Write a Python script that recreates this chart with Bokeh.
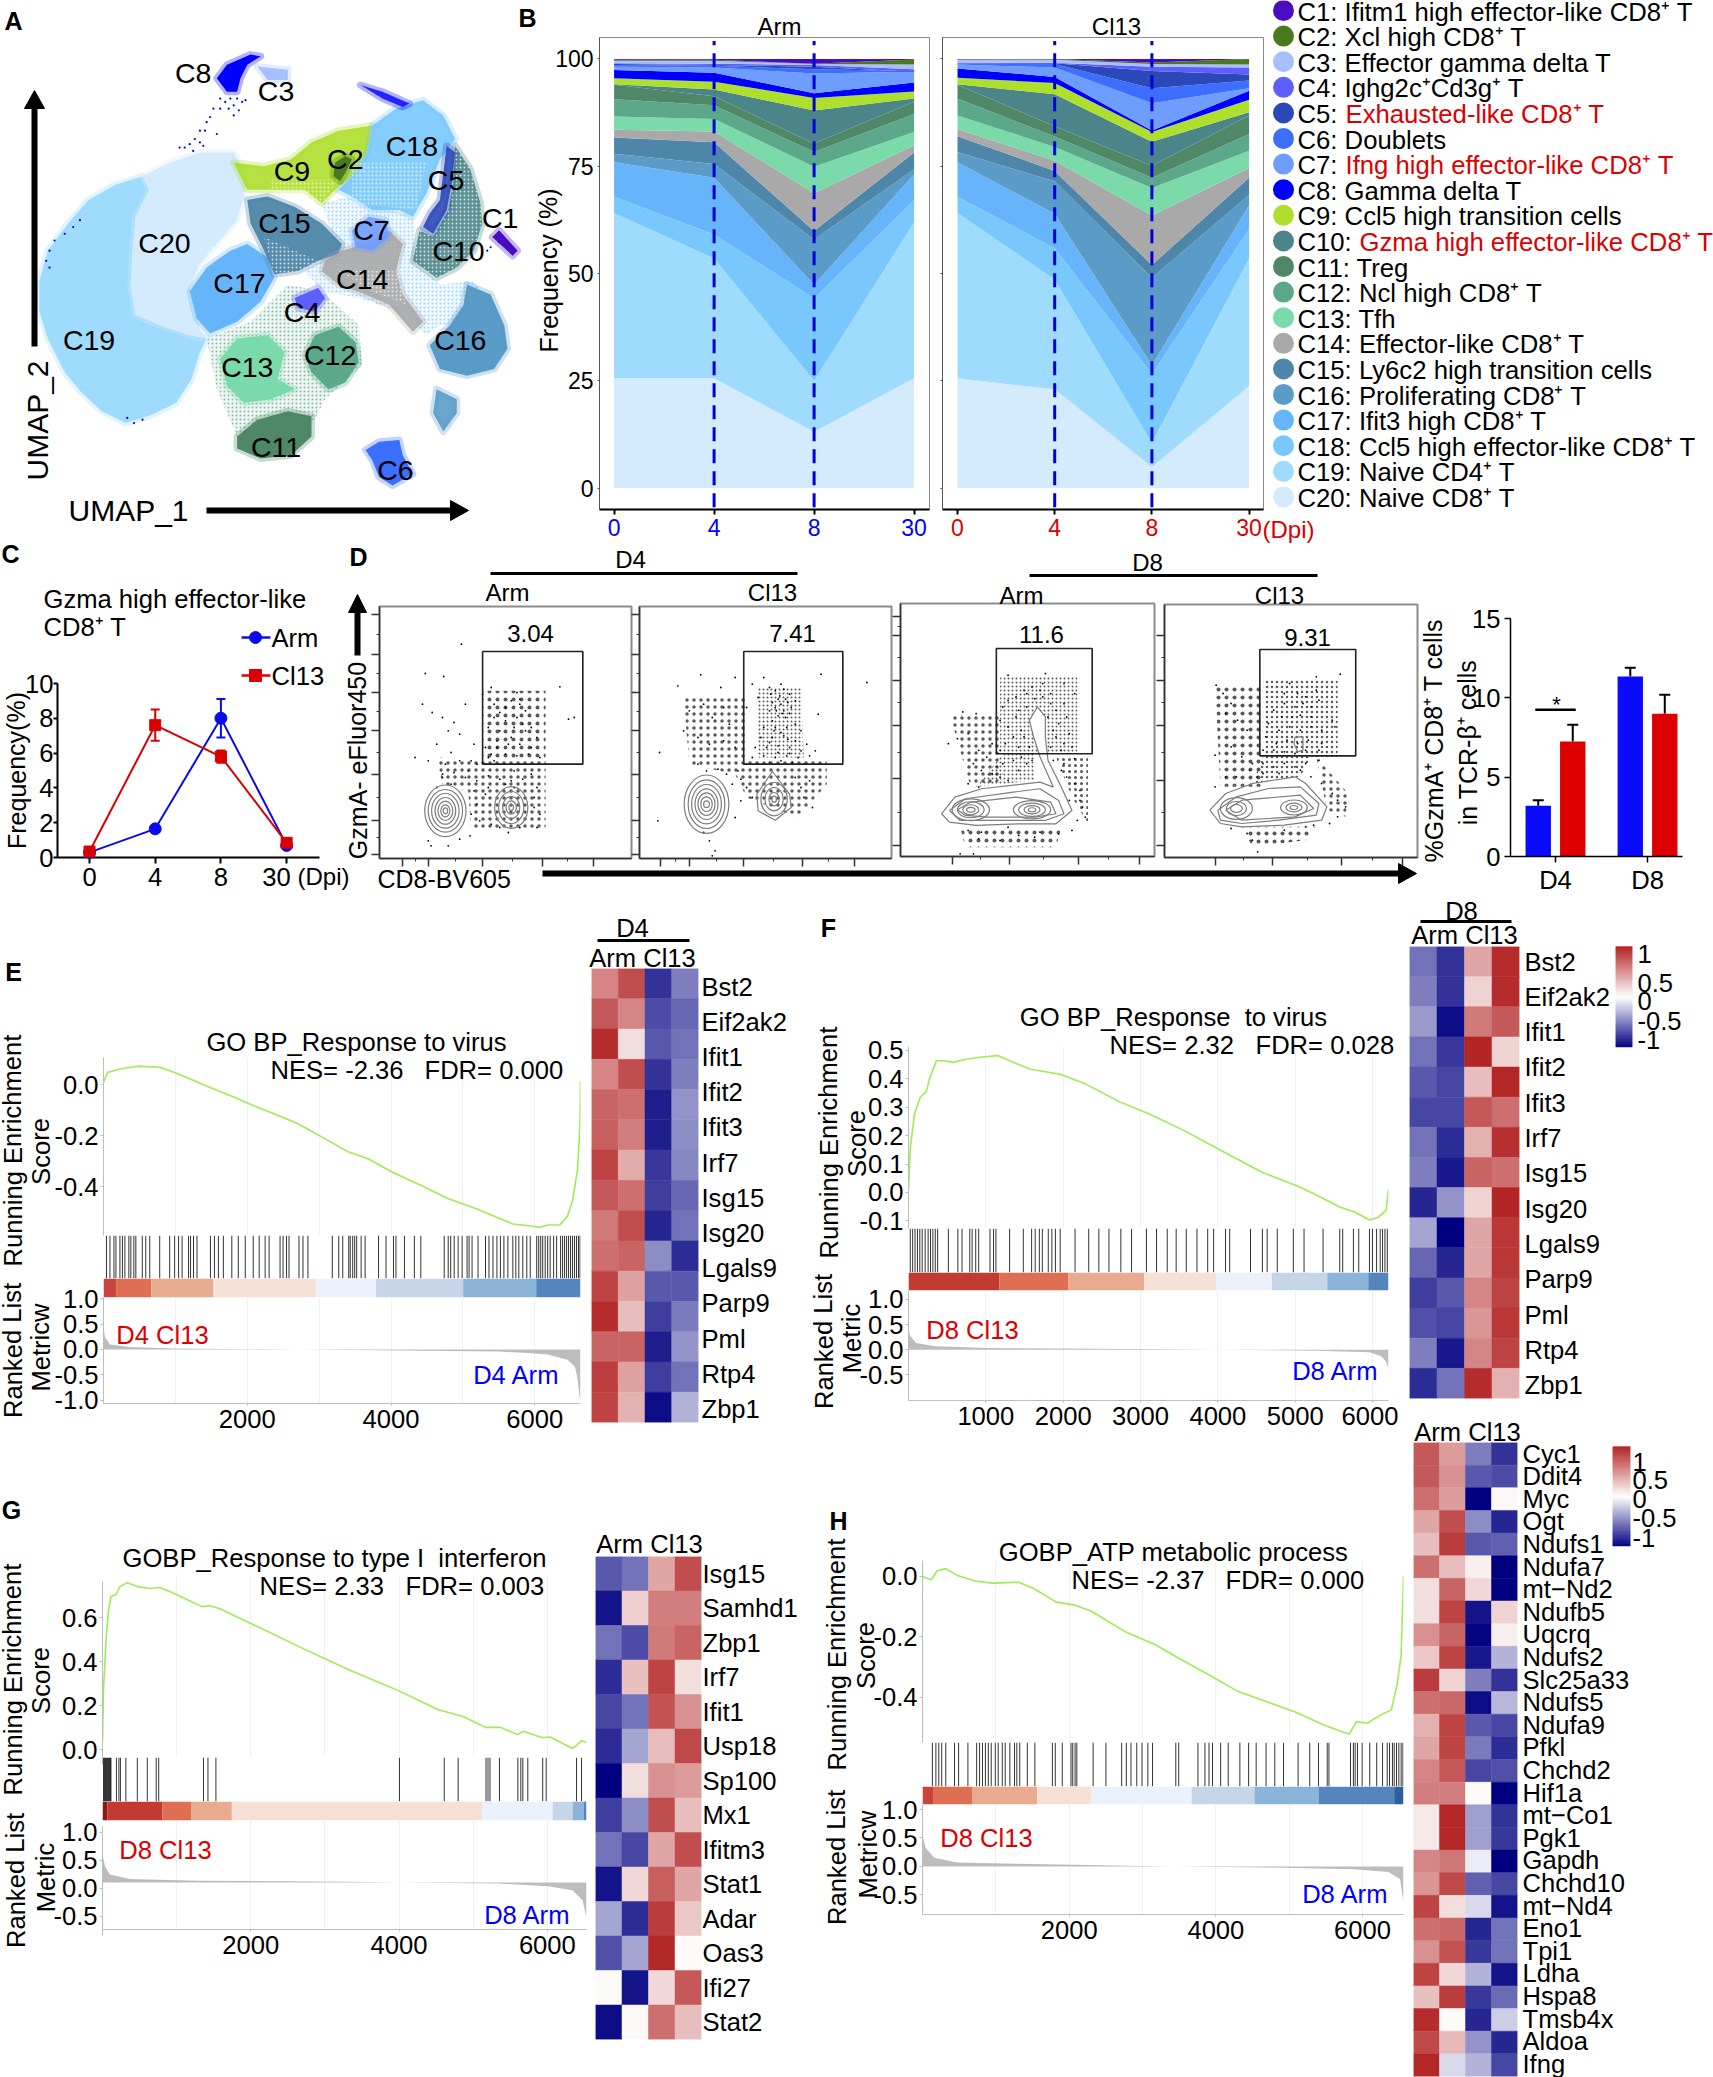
from bokeh.plotting import figure
from bokeh.models import Range1d, LinearAxis, FixedTicker, ColumnDataSource, LinearColorMapper, Column, Grid, NumeralTickFormatter
from bokeh.core.properties import value
from bokeh.transform import transform
from bokeh.embed import file_html
from bokeh.resources import INLINE

FONT = "Liberation Sans"
BLUE = "#0000ff"
RED = "#dc0000"
NB = "\u00a0"

# ---------- cluster names / colours
cluster_ids = ["C%d" % i for i in range(1, 21)]
cluster_colors = ["#4a0ec0", "#4a7a1e", "#a8bfff", "#5f5fff", "#2a48b8", "#3c6eff", "#6f9cff", "#0000ff", "#addf2c", "#4b8589",
                  "#4e8866", "#5ca88a", "#7bdaa9", "#a9a9a9", "#4d86a8", "#5a9bc8", "#66b5fb", "#78c8fd", "#9edbfd", "#d3ebfc"]
legend_black = ["C1: Ifitm1 high effector-like CD8⁺ T", "C2: Xcl high CD8⁺ T", "C3: Effector gamma delta T", "C4: Ighg2c⁺Cd3g⁺ T",
                "C5:", "C6: Doublets", "C7:", "C8: Gamma delta T", "C9: Ccl5 high transition cells", "C10:", "C11: Treg",
                "C12: Ncl high CD8⁺ T", "C13: Tfh", "C14: Effector-like CD8⁺ T", "C15: Ly6c2 high transition cells",
                "C16: Proliferating CD8⁺ T", "C17: Ifit3 high CD8⁺ T", "C18: Ccl5 high effector-like CD8⁺ T", "C19: Naive CD4⁺ T", "C20: Naive CD8⁺ T"]
legend_red = {4: "Exhausted-like CD8⁺ T", 6: "Ifng high effector-like CD8⁺ T", 9: "Gzma high effector-like CD8⁺ T"}

# ---------- panel B: cumulative tops, C20 (bottom) to C1 (top)
arm_d0 = [25.6, 64.1, 67.9, 75.9, 77.9, 81.7, 83.5, 86.6, 90.6, 94.0, 94.1, 95.5, 97.4, 98.2, 98.6, 98.8, 99.0, 99.6, 99.8, 100]
arm_d4 = [25.6, 53.5, 59.1, 72.3, 75.5, 80.6, 83.1, 86.0, 89.2, 91.3, 92.9, 94.7, 96.8, 98.0, 98.4, 98.6, 98.9, 99.6, 99.8, 100]
arm_d8 = [13.1, 25.0, 44.2, 47.4, 57.9, 59.9, 68.7, 74.9, 78.3, 80.3, 88.0, 90.9, 92.0, 96.6, 97.6, 98.2, 98.6, 98.8, 98.9, 100]
arm_d30 = [25.6, 61.9, 67.1, 73.1, 74.3, 78.2, 79.9, 83.0, 87.2, 90.0, 90.8, 92.4, 94.5, 97.0, 97.2, 97.0, 97.6, 98.7, 99.9, 100]
cl13_d0 = [25.6, 64.1, 67.9, 75.9, 78.3, 82.0, 83.7, 86.8, 90.8, 94.0, 94.1, 95.6, 97.8, 98.7, 98.9, 99.0, 99.2, 99.8, 99.9, 100]
cl13_d4 = [23.0, 48.6, 55.9, 63.9, 71.5, 73.9, 76.3, 79.5, 81.9, 84.3, 91.8, 94.4, 95.8, 98.0, 98.8, 99.0, 99.1, 99.8, 100, 100]
cl13_d8 = [4.9, 10.5, 26.6, 28.6, 49.0, 52.0, 63.5, 69.9, 72.3, 75.1, 80.7, 83.0, 83.3, 89.7, 93.2, 97.2, 98.2, 98.8, 99.2, 100]
cl13_d30 = [23.8, 53.5, 60.3, 65.9, 68.3, 72.3, 74.6, 78.6, 82.5, 86.8, 87.6, 90.5, 92.6, 93.2, 95.0, 96.4, 98.0, 98.7, 100, 100]
dpi_labels = ["0", "4", "8", "30"]

# ---------- panel C
c_arm = [0.3, 1.65, 8.0, 0.7]
c_arm_err = [0.1, 0.15, 1.1, 0.15]
c_cl13 = [0.35, 7.6, 5.8, 0.85]
c_cl13_err = [0.1, 0.9, 0.35, 0.1]

# ---------- panel D bars
bar_arm = [3.2, 11.35]
bar_arm_top = [3.55, 11.9]
bar_cl13 = [7.25, 9.0]
bar_cl13_top = [8.3, 10.2]

# ---------- panel D flow dots (read in reading units of each plot)
d1_dots = [740,428,772,437,803,340,722,680,745,690,735,520,752,545,770,560,790,575,810,520,780,600,800,610,825,640,760,640,785,665,775,700,800,690,820,690,815,720,830,700,845,700,860,690,878,700,895,720,905,700,925,730,935,770,930,800,940,850,935,890,
           855,470,840,490,900,485,975,468,1000,560,990,565,860,520,880,530,890,510,905,520,915,540,900,560,880,570,860,560,850,590,870,600,895,590,915,600,935,620,925,650,905,640,885,640,865,650,845,650,855,670,880,670,900,675,920,670,940,680,850,680,865,630,890,620,910,580,925,590,870,545,905,505,
           770,740,785,760,760,770,790,725,810,740,830,750,850,735,870,745,890,750,910,745,825,780,845,790,830,820,820,850,850,770,835,870,818,915,780,945,750,945,745,930,800,925,855,880,870,890,930,830,885,905,905,890,880,760,895,770,770,730]
d2_dots = [1220,432,1280,440,1255,470,1180,465,1148,665,1190,600,1200,540,1225,520,1240,560,1260,530,1270,580,1215,620,1235,640,1260,630,1280,650,1215,700,1230,720,1250,715,1265,730,1285,720,1300,700,1320,700,1340,695,1360,690,1380,695,1400,700,1290,745,1275,760,1300,770,1310,800,1290,810,1385,740,1395,770,1400,800,1410,750,1415,830,1145,870,1240,975,1245,960,1235,930,1225,905,1280,860,
           1320,500,1340,470,1350,480,1365,475,1375,490,1355,505,1345,515,1360,520,1372,515,1385,510,1350,530,1365,540,1378,530,1340,540,1355,555,1368,560,1345,570,1330,590,1350,590,1370,590,1385,580,1395,600,1325,620,1345,620,1365,615,1385,630,1405,640,1315,650,1335,650,1355,645,1375,650,1395,660,1420,660,1310,680,1330,675,1350,680,1370,675,1390,680,1410,675,1430,430,1510,455,1425,550,1300,530,1310,460,1330,440,1360,460,1342,490,1358,495,1368,505,1352,540,1362,548,1375,548,1348,600,1360,605,1372,625,1340,635,1355,665,1375,668]
d3_dots = [240,435,310,430,305,460,285,470,300,480,320,490,345,460,270,480,255,500,240,510,230,530,225,570,240,590,255,560,265,600,275,530,260,540,250,620,235,640,225,660,260,650,270,620,280,650,320,520,330,540,345,520,350,560,335,580,330,620,345,640,360,650,340,660,320,650,325,600,315,560,275,490,290,505,305,500,365,490,355,610,
           155,545,180,550,128,640,145,625,165,610,185,660,200,680,210,640,175,700,190,720,210,730,165,760,185,770,230,700,250,690,265,680,240,750,225,740,260,720,275,700,285,690,325,690,340,720,350,740,365,760,345,700,375,780,380,830,385,860,370,870,360,900,165,900,190,905,225,930,260,915,290,920,335,910,300,905,240,890,150,970,175,970,185,925,365,685,355,810,375,810]
d4_dots = [770,460,820,440,865,432,760,490,785,490,800,500,820,480,760,520,780,530,795,520,810,530,825,510,740,540,755,560,775,560,790,555,810,560,730,580,750,600,770,590,790,600,810,590,830,600,850,570,855,590,725,620,745,640,765,630,785,640,805,630,830,640,720,660,740,660,760,665,780,670,800,660,825,660,
           632,465,645,490,660,520,650,550,672,570,690,600,630,675,660,650,680,680,700,700,720,700,740,710,760,700,780,710,800,700,825,690,650,740,630,770,670,740,695,720,720,730,750,730,790,720,810,740,830,760,850,790,860,810,875,830,860,860,845,880,690,910,700,930,710,965,660,895,760,900,800,890,815,885]
# density zones of the dot clouds: outline, tile scale
d1_zones = [([840,480,950,480,950,690,840,690], 8), ([760,680,950,690,950,900,820,900,815,780,770,760], 7)]
d2_zones = [([1320,470,1395,470,1400,680,1320,680], 4), ([1190,500,1300,500,1300,690,1440,690,1440,760,1390,860,1300,800,1280,730,1200,700], 7)]
d3_zones = [([225,440,370,440,370,670,225,670], 4), ([130,550,225,550,230,750,170,770], 7), ([330,680,390,680,390,880,360,800], 6), ([230,670,290,670,290,750,180,770], 4), ([150,890,340,890,330,950,160,950], 8)]
d4_zones = [([720,450,860,450,860,680,720,680], 5), ([630,470,720,470,720,770,640,770], 8), ([720,680,810,680,790,740,700,760], 5), ([820,680,880,790,875,860,840,840], 7), ([680,890,820,890,800,930,700,950], 8)]
d3_neck = [280,570,295,530,310,560,310,620,315,690,325,750,300,750,300,680,288,620]

# ---------- GSEA panels: running score curves
e_rank = [0,55,228,470,782,990,1197,1474,1820,2097,2443,2720,3066,3412,3688,4034,4450,4796,5142,5488,5695,5972,6076,6180,6352,6456,6526,6595,6629,6636]
e_es = [.007,.047,.061,.072,.068,.047,.023,-.011,-.05,-.084,-.122,-.156,-.21,-.265,-.292,-.346,-.40,-.448,-.482,-.522,-.547,-.556,-.56,-.551,-.55,-.516,-.455,-.332,-.156,.014]
f_rank = [0,23,77,154,231,269,361,461,577,731,923,1153,1307,1576,1961,2269,2730,3114,3576,4114,4576,5037,5268,5575,5768,5960,6075,6175,6206]
f_es = [.01,.155,.276,.337,.355,.398,.464,.464,.458,.468,.476,.482,.464,.434,.416,.385,.319,.276,.216,.137,.07,.022,-.008,-.051,-.069,-.097,-.087,-.063,.01]
g_rank = [0,13,47,81,114,181,235,335,470,638,772,940,1174,1342,1443,1577,1980,2650,3321,3992,4529,4864,5166,5367,5602,5669,5937,6038,6340,6407,6461,6528]
g_es = [.009,.236,.464,.6,.664,.673,.709,.727,.709,.7,.705,.682,.645,.618,.622,.609,.545,.436,.331,.236,.149,.118,.069,.069,.036,.051,.022,.025,-.027,-.009,.009,0]
h_rank = [0,119,199,318,477,715,953,1310,1509,1826,2064,2303,2779,3176,3494,3891,4288,4685,5082,5479,5757,5820,5915,6074,6153,6272,6392,6471,6526,6558]
h_es = [0,-.011,.019,.026,.003,-.015,-.022,-.019,-.039,-.085,-.094,-.115,-.185,-.226,-.271,-.324,-.379,-.414,-.449,-.493,-.518,-.522,-.481,-.486,-.472,-.456,-.442,-.358,-.261,.003]

# ranked metric
e_m_rank = [0,21,90,367,990,2720,3412,4796,5488,5903,6180,6456,6560,6595,6622,6636]
e_m = [.44,.24,.10,.05,.02,0,-.01,-.03,-.04,-.07,-.10,-.2,-.34,-.58,-.92,-1.05]
f_m_rank = [0,23,100,346,1038,2961,4000,5268,5960,6114,6175,6206]
f_m = [.41,.27,.136,.07,.034,.014,0,-.02,-.05,-.13,-.24,-.37]
g_m_rank = [0,34,101,369,1308,3321,3992,5335,6005,6340,6475,6528]
g_m = [.5,.29,.14,.06,.03,.01,0,-.02,-.07,-.14,-.32,-.64]
h_m_rank = [0,40,159,476,1509,3414,4685,5876,6352,6511,6558]
h_m = [.55,.33,.15,.07,.04,0,-.02,-.05,-.1,-.22,-.63]

# gene-set hits (reading units along each rug)
e_hits = [213,220,228,232,240,245,250,258,262,268,272,285,292,300,320,340,350,358,365,378,382,388,395,422,430,438,448,465,478,492,508,520,532,540,562,568,575,580,600,608,618,667,680,688,700,703,708,712,716,725,733,760,775,790,795,812,832,845,892,900,905,912,920,928,938,942,948,960,975,982,990,998,1005,1012,1020,1030,1036,1042,1050,1058,1065,1078,1082,1086,1090,1095,1100,1105,1112,1118,1126,1130,1134,1138,1142,1146,1150,1154,1158,1162,1165]
f_hits = [218,222,226,230,234,238,243,248,252,256,260,264,282,298,305,318,322,328,333,352,358,362,385,408,422,428,435,440,450,456,462,470,495,518,535,552,572,590,615,632,650,665,682,700,718,728,748,755,790,810,818,835,862,880,912,940,945,963,972,990,995,1002,1008,1012,1016,1020]
g_hits = [207,209,211,213,215,217,219,221,222,233,238,241,252,275,295,313,318,408,417,433,802,892,920,976,980,984,1003,1040,1046,1050,1060,1090,1097,1158,1168]
h_hits = [227,233,238,243,250,265,272,288,303,308,313,318,323,328,335,340,347,352,360,368,372,377,390,403,433,438,450,465,468,472,475,503,525,552,560,568,578,587,597,605,645,650,683,695,702,708,722,735,755,770,783,800,815,830,855,875,890,905,908,945,950,953,957,965,978,990,1000,1008,1012,1017,1020,1024,1028,1032,1035]
# rank colour strip
e_edges = [207,232,303,428,634,755,930,1077,1166]
e_strip = ["#c9443c","#df6f53","#e8ab8f","#f7e0d5","#eaf1fb","#c4d6e8","#8cb3d8","#5486bd"]
f_edges = [215,368,484,611,733,826,919,988,1022]
f_strip = ["#c23b32","#df6f53","#e8ab8f","#f7e0d5","#eaf1fb","#c4d6e8","#8cb3d8","#5486bd"]
g_edges = [205,215,325,383,465,968,1110,1150,1172,1178]
g_strip = ["#8b1a1a","#c23b32","#df6f53","#e8ab8f","#f7e0d5","#eaf1fb","#c4d6e8","#8cb3d8","#5486bd"]
h_edges = [210,228,295,407,500,672,780,890,1020,1036]
h_strip = ["#c9443c","#df6f53","#e8ab8f","#f7e0d5","#eaf1fb","#c4d6e8","#8cb3d8","#5486bd","#2f5f9f"]

# ---------- heat maps
e_heat = [[.55,.8,-.8,-.5],[.75,.55,-.7,-.6],[.95,.15,-.65,-.55],[.55,.8,-.8,-.5],[.7,.65,-.88,-.42],[.72,.58,-.88,-.45],[.85,.38,-.78,-.47],[.75,.65,-.75,-.6],
          [.6,.8,-.85,-.55],[.65,.7,-.45,-.82],[.85,.42,-.65,-.65],[.95,.3,-.75,-.52],[.7,.7,-.88,-.42],[.87,.42,-.75,-.55],[.85,.35,-.95,-.3]]
ef_genes = ["Bst2","Eif2ak2","Ifit1","Ifit2","Ifit3","Irf7","Isg15","Isg20","Lgals9","Parp9","Pml","Rtp4","Zbp1"]
f_heat = [[-.55,-.8,.4,.95],[-.5,-.8,.2,.95],[-.4,-.95,.6,.75],[-.55,-.78,.98,.2],[-.65,-.72,.3,.97],[-.72,-.72,.75,.65],[-.55,-.82,.35,.93],[-.5,-.9,.7,.65],
          [-.85,-.42,.2,.98],[-.35,-1,.4,.9],[-.6,-.85,.4,.9],[-.75,-.65,.55,.85],[-.68,-.72,.48,.9],[-.5,-.9,.55,.85],[-.82,-.55,.95,.35]]
g_genes = ["Isg15","Samhd1","Zbp1","Irf7","Ifit1","Usp18","Sp100","Mx1","Ifitm3","Stat1","Adar","Oas3","Ifi27","Stat2"]
g_heat = [[-.65,-.55,.4,.8],[-.92,.22,.58,.58],[-.55,-.7,.6,.7],[-.82,.28,.85,.15],[-.72,-.55,.78,.5],[-.82,-.35,.3,.82],[-1,.15,.5,.45],[-.75,-.45,.8,.3],
          [-.55,-.72,.4,.8],[-.92,.18,.72,.4],[-.35,-.82,.88,.25],[-.68,-.35,.97,.02],[.02,-.92,.18,.75],[-.95,.03,.65,.3]]
h_genes = ["Cyc1","Ddit4","Myc","Ogt","Ndufs1","Ndufa7","mt−Nd2","Ndufb5","Uqcrq","Ndufs2","Slc25a33","Ndufs5","Ndufa9","Pfkl","Chchd2","Hif1a","mt−Co1","Pgk1","Gapdh","Chchd10","mt−Nd4","Eno1","Tpi1","Ldha","Hspa8","Tmsb4x","Aldoa","Ifng"]
h_heat = [[.75,.45,-.5,-.8],[.75,.5,-.65,-.7],[.65,.45,-1,.03],[.4,.8,-.45,-.85],[.3,.88,-.65,-.62],[.65,.3,.07,-1],[.15,.7,.18,-1],[.15,.85,-.92,.2],[.5,.7,-.98,.08],[.25,.85,-.9,-.3],
          [.88,.2,-.5,-.8],[.65,.68,-.95,-.28],[.35,.85,-.65,-.72],[.4,.85,-.52,-.82],[.55,.75,-.72,-.68],[.58,.58,.02,-1],[.1,.97,-.38,-.8],[.1,.97,-.38,-.78],[.55,.62,-.08,-1],[.48,.82,-.62,-.72],
          [.85,.15,-.15,-.92],[.65,.68,-.85,-.55],[.5,.78,-.78,-.55],[.85,.18,-.3,-.92],[.28,.88,-.78,-.58],[.95,.02,-.85,-.2],[.82,.32,-.42,-.85],[.97,-.15,-.3,-.72]]

# ---------- UMAP cluster outlines (reading units, x then y)
u_halo_g = [610,1000,740,950,850,840,950,860,1060,960,1070,1080,960,1180,930,1240,700,1290,640,1150]
u_halo_b = [950,600,1040,580,1220,640,1230,780,1300,840,1400,830,1480,950,1300,960,1260,990,1180,920,1060,880,950,860,900,800,1000,740]
u19 = [115,830,140,740,200,660,260,590,340,545,420,520,440,560,400,640,390,750,385,850,400,930,470,960,560,990,610,1000,590,1040,565,1120,520,1190,450,1225,370,1250,300,1215,240,1160,190,1100,140,1000,115,920]
u20 = [420,520,500,480,590,450,690,450,730,520,720,580,700,650,640,720,590,780,560,850,590,970,610,1000,560,990,470,960,400,930,385,850,390,750,400,640,440,560]
u17 = [560,860,610,790,680,740,730,720,790,760,810,820,770,890,700,950,620,985,580,940]
u15 = [730,590,790,580,870,610,950,660,1010,720,1000,750,940,770,880,800,810,810,780,740,740,660]
u9 = [690,480,780,490,860,470,920,420,1000,385,1100,370,1085,450,1040,520,990,560,950,600,900,560,800,560,730,560]
u2 = [985,520,990,480,1020,460,1040,470,1020,510,1005,535]
u18 = [1100,370,1170,320,1250,295,1310,340,1345,410,1300,470,1260,570,1220,640,1180,620,1100,620,1040,580,1000,560,1040,520,1085,450]
u5 = [1320,430,1345,450,1335,540,1320,620,1280,690,1250,670,1270,630,1300,590,1310,510]
u10 = [1345,430,1390,500,1420,600,1425,660,1400,740,1350,790,1290,820,1220,770,1240,680,1280,700,1325,620,1340,540]
u7 = [1040,680,1090,640,1140,650,1150,700,1100,740,1050,730]
u14 = [960,770,1010,740,1080,720,1150,680,1190,720,1170,800,1190,870,1250,950,1220,980,1150,900,1080,870,1000,840,950,800]
u16 = [1380,840,1450,870,1490,960,1500,1030,1460,1090,1380,1110,1300,1090,1270,1020,1330,960,1370,900]
u16b = [1290,1150,1350,1180,1350,1220,1310,1275,1280,1220]
u4 = [870,880,940,850,960,880,930,920,880,910]
u12 = [930,990,1000,965,1050,1010,1060,1070,1020,1130,970,1150,920,1100,900,1050]
u13 = [650,1060,700,1000,790,990,840,1040,820,1120,870,1150,800,1180,720,1190,670,1140]
u11 = [700,1290,760,1240,850,1215,920,1230,920,1290,860,1345,770,1355,700,1325]
u6 = [1080,1330,1120,1305,1180,1300,1190,1345,1220,1400,1160,1435,1120,1410,1100,1360]
u8 = [640,230,670,190,740,160,770,165,730,190,710,230,700,270,670,270]
u8b = [1065,250,1130,270,1210,305,1190,315,1130,290]
u3 = [760,195,850,205,850,235,790,235]
u1 = [1455,700,1475,680,1530,740,1515,755]
u8_dots = [650,290,665,300,680,290,700,290,715,300,690,310,705,325,675,320,650,320,630,320,620,345,610,360,605,385,590,385,575,410,590,420,560,425,545,435,530,435,570,445,600,430,640,395,690,340,725,295,
           235,650,215,670,190,690,160,710,145,740,135,770,145,790,375,1235,395,1250,420,1240,1440,740,1450,730,1475,715]
# zones of white speckle inside the clusters
speck_zones = [[1040,480,1260,480,1230,620,1040,600], u10, [1000,800,1170,800,1200,900,1100,860], [800,530,1000,530,950,600,800,560], [780,700,940,770,880,800,810,810], [620,730,700,670,640,720,590,780]]

# ---------- helpers
figs = []
ML, MR, MT, MB = 110, 10, 15, 50   # every figure has the same borders so that the frames keep their places

def flat(v):
    return v[0::2], v[1::2]

def panel(l, t, r, b, xr, yr):
    w, h = int(r - l + ML + MR), int(b - t + MT + MB)
    p = figure(width=w, height=h, x_range=Range1d(*xr), y_range=Range1d(*yr),
               x_axis_location=None, y_axis_location=None, toolbar_location=None, output_backend="svg",
               min_border_left=ML, min_border_right=MR, min_border_top=MT, min_border_bottom=MB,
               background_fill_color=None, border_fill_color=None, outline_line_color=None,
               styles={"position": "absolute", "left": "%dpx" % (l - ML), "top": "%dpx" % (t - MT),
                       "width": "%dpx" % w, "height": "%dpx" % h, "max-width": "none", "max-height": "none"})
    p.grid.visible = False
    figs.append(p)
    return p

def axis(p, side, ticks, size="25.6px", color="black", line="black", lw=1.5, tick_out=5, overrides=None, fmt=None, standoff=4, minor=None, blank=False):
    ax = LinearAxis(ticker=FixedTicker(ticks=ticks, minor_ticks=minor or []), major_label_text_font=FONT, major_label_text_font_size=size,
                    major_label_text_color=color, axis_line_color=line, axis_line_width=lw, major_tick_line_color=line,
                    major_tick_line_width=lw, major_tick_in=0, major_tick_out=tick_out, minor_tick_line_color=line if minor else None,
                    minor_tick_in=0, minor_tick_out=3, major_label_standoff=standoff, major_label_orientation="horizontal")
    if overrides:
        ax.major_label_overrides = overrides
    if blank:
        ax.major_label_overrides = {t_: "" for t_ in ticks}
    if fmt:
        ax.formatter = fmt
    p.add_layout(ax, side)
    return ax

# ---------- A
pa = panel(0, 0, 530, 540, (0, 1568), (1597.5, 0))
umap_shapes = [(u_halo_g, "#5ca88a", .10), (u_halo_b, "#78c8fd", .12), (u19, "#9edbfd", 1), (u20, "#d3ebfc", 1), (u17, "#66b5fb", 1), (u15, "#4d86a8", .95), (u9, "#addf2c", .9),
               (u18, "#78c8fd", .9), (u2, "#4a7a1e", 1), (u10, "#4b8589", .9), (u5, "#2a48b8", .9), (u14, "#a9a9a9", .9), (u7, "#6f9cff", .9), (u16, "#5a9bc8", 1), (u16b, "#5a9bc8", .9),
               (u4, "#5f5fff", 1), (u13, "#7bdaa9", 1), (u12, "#5ca88a", 1), (u11, "#4e8866", 1), (u6, "#3c6eff", 1), (u8, "#0000ff", 1), (u8b, "#0000ff", .8), (u3, "#a8bfff", 1), (u1, "#4a0ec0", 1)]
for pts, col, al in umap_shapes:
    xs, ys = flat(pts)
    if al < .5:
        pa.patch(xs, ys, fill_color=col, fill_alpha=al, line_color=None, hatch_pattern="dot", hatch_color=col, hatch_scale=4, hatch_weight=.7, hatch_alpha=.7)
    else:
        pa.patch(xs, ys, fill_color=col, fill_alpha=al, line_color=col, line_alpha=.3, line_width=7, line_join="round")
for z in speck_zones:
    xs, ys = flat(z)
    pa.patch(xs, ys, fill_color=None, line_color=None, hatch_pattern="dot", hatch_color="white", hatch_scale=4, hatch_weight=.7, hatch_alpha=.7)
xs, ys = flat(u8_dots)
pa.scatter(xs, ys, size=2.2, color="#0000ff", line_color=None)

# ---------- B
def stream(l, r, ux0, ustep, tops, show_labels, tick_color, dashed):
    xr = ((l - ux0) / ustep, (r - ux0) / ustep)
    p = panel(l, 37, r, 509, xr, (-5, 105))
    p.outline_line_color = "#8a8a8a"
    p.outline_line_width = 1
    x = [0, 1, 2, 3]
    prev = [0, 0, 0, 0]
    for i in range(20):
        top = [t[i] for t in tops]
        p.varea(x, prev, top, fill_color=cluster_colors[19 - i])
        prev = top
    for d in dashed:
        p.line([d, d], [-4.5, 104.2], line_color="#0000d8", line_width=3, line_dash="14 8")
    axis(p, "below", x, size="23px", color=tick_color, overrides={i: s for i, s in enumerate(dpi_labels)}, lw=2)
    axis(p, "left", [0, 25, 50, 75, 100], size="23px", line="#555555", lw=1, tick_out=2, blank=not show_labels)
    return p

stream(599, 929, 613.6, 100, [arm_d0, arm_d4, arm_d8, arm_d30], True, BLUE, [1, 2])
stream(942, 1263, 957, 97.2, [cl13_d0, cl13_d4, cl13_d8, cl13_d30], False, RED, [1, 2])

# ---------- C
pc = panel(57, 683, 319, 857, (-0.487, 3.5), (0, 10))
cx = [0, 1, 2, 3]
axis(pc, "left", [0, 2, 4, 6, 8, 10], lw=2, tick_out=4, standoff=0)
axis(pc, "below", cx, lw=2, tick_out=6, overrides={0: "0", 1: "4", 2: "8", 3: ""})
pc2 = panel(57, 640, 319, 870, (-0.487, 3.5), (-0.74, 12.46))
for vals, err, col, mk, sz in [(c_arm, c_arm_err, "#0b0bea", "circle", 12), (c_cl13, c_cl13_err, "#d80000", "square", 11)]:
    lo = [v - e for v, e in zip(vals, err)]
    hi = [v + e for v, e in zip(vals, err)]
    pc2.segment(cx, lo, cx, hi, line_color=col, line_width=2)
    pc2.scatter(cx, lo, marker="dash", size=9, line_color=col, line_width=2)
    pc2.scatter(cx, hi, marker="dash", size=9, line_color=col, line_width=2)
    pc2.line(cx, vals, line_color=col, line_width=2)
    pc2.scatter(cx, vals, marker=mk, size=sz, color=col)

# ---------- D flow plots
def flow(l, t, r, b, xr, yr, dots, gate, yticks, xticks, lines, ells, zones, neck=None):
    p = panel(l, t, r, b, xr, yr)
    p.outline_line_color = "#8c8c8c"
    p.outline_line_width = 2
    axis(p, "left", yticks, size="10px", line="#333333", lw=1.5, tick_out=8, standoff=0, minor=[(yticks[i] + yticks[i + 1]) / 2 for i in range(len(yticks) - 1)], blank=True)
    axis(p, "below", xticks, size="10px", line="#333333", lw=1.5, tick_out=8, standoff=0, minor=[(xticks[i] + xticks[i + 1]) / 2 for i in range(len(xticks) - 1)], blank=True)
    for z, sc in zones:
        zx, zy = flat(z)
        p.patch(zx, zy, fill_color=None, line_color=None, hatch_pattern="dot", hatch_color="black", hatch_scale=sc, hatch_weight=.55, hatch_alpha=.65)
    if neck:
        zx, zy = flat(neck)
        p.patch(zx, zy, fill_color="white", line_color=None)
    xs, ys = flat(dots)
    p.scatter(xs, ys, size=1.8, color="black", line_color=None)
    for cx_, cy_, ws, hs in ells:
        for w_, h_ in zip(ws, hs):
            p.ellipse(cx_, cy_, width=w_, height=h_, fill_color=None, line_color="#7d7d7d", line_width=1.2)
    for ln in lines:
        lx, ly = flat(ln)
        p.line(lx, ly, line_color="#7d7d7d", line_width=1.2)
    p.quad(left=gate[0], right=gate[1], top=gate[2], bottom=gate[3], fill_color=None, line_color="#222222", line_width=1.6)
    return p

flow(379, 606, 631, 858, (660, 1100), (983, 227), d1_dots, (840, 1015, 362, 700), [250, 370, 485, 600, 730, 870, 970], [700, 745, 840, 945, 1033],
     [], [(775, 840, [72, 60, 48, 36, 26, 16, 8], [155, 128, 104, 80, 58, 36, 18]), (890, 830, [58, 44, 30, 18, 8], [125, 96, 66, 40, 18])], d1_zones)
flow(639, 606, 891, 858, (1113, 1553), (983, 227), d2_dots, (1295, 1468, 362, 700), [250, 370, 485, 600, 730, 870, 970], [1150, 1200, 1295, 1398, 1488],
     [[1345,722,1375,790,1378,830,1350,868,1320,840,1318,790,1345,722]], [(1230, 820, [78, 64, 52, 40, 30, 20, 10], [175, 146, 118, 92, 68, 44, 20]), (1348, 805, [46, 32, 18, 8], [100, 70, 40, 18])], d2_zones)
flow(900, 603, 1154, 856, (38, 515), (978, 220), d3_dots, (218, 398, 355, 670), [260, 315, 450, 585, 745, 945], [135, 242, 372, 487],
     [[115,850,140,800,190,775,300,755,325,770,300,680,288,620,280,570,295,530,310,560,310,620,315,690,340,770,360,840,330,880,260,880,180,885,130,875,115,850],
      [130,840,160,805,250,785,300,775,335,810,345,850,310,870,200,870,150,870,130,840], [145,838,170,815,255,800,320,815,330,850,290,860,200,860,160,855,145,838]],
     [(170, 838, [70, 50, 30, 16], [65, 48, 30, 14]), (285, 838, [70, 50, 30, 14], [55, 40, 25, 12])], d3_zones, d3_neck)
flow(1164, 604, 1417, 857, (535, 1010), (982, 223), d4_dots, (714, 894, 358, 677), [315, 450, 585, 750, 945], [630, 738, 868, 982],
     [[620,840,650,790,700,760,780,740,800,760,840,830,830,870,760,885,680,890,640,880,620,840], [780,620,795,620,795,660,785,665,778,640,780,620],
      [635,840,670,800,730,775,790,770,825,820,820,855,750,870,680,880,640,870,635,840], [650,840,680,810,790,795,815,835,780,860,680,870,650,840]],
     [(670, 835, [60, 38, 22], [65, 42, 24]), (778, 832, [50, 30, 14], [45, 26, 12])], d4_zones)

# ---------- D bars
pb = panel(1510, 618, 1682, 856, (-0.489, 1.38), (0, 15))
axis(pb, "left", [0, 5, 10, 15], lw=1.5, tick_out=6)
axis(pb, "below", [0, 1], lw=1.5, tick_out=6, overrides={0: "D4", 1: "D8"}, standoff=3)
bx = [0, 1]
xa = [v - .1875 for v in bx]
xc = [v + .1875 for v in bx]
pb.segment(xa, bar_arm, xa, bar_arm_top, line_color="black", line_width=2)
pb.segment(xc, bar_cl13, xc, bar_cl13_top, line_color="black", line_width=2)
pb.scatter(xa, bar_arm_top, marker="dash", size=11, line_color="black", line_width=2)
pb.scatter(xc, bar_cl13_top, marker="dash", size=11, line_color="black", line_width=2)
pb.vbar(xa, width=.276, top=bar_arm, fill_color="#0a0aff", line_color=None)
pb.vbar(xc, width=.276, top=bar_cl13, fill_color="#dc0000", line_color=None)
pb.line([-0.22, 0.22], [9.25, 9.25], line_color="black", line_width=2.5)

# ---------- GSEA
def gsea(l, r, t_es, t_rug, t_bar, t_met, b, rmax, es_r, es_ticks, rank, es, hits, edges, strip, met_r, met_ticks, mr, mv, dy_es=0, dy_met=0):
    p1 = panel(l, t_es, r, t_rug, (0, rmax), es_r)
    p1a = panel(l, t_es + dy_es, r, t_rug + dy_es, (0, rmax), es_r) if dy_es else p1
    axis(p1a, "left", es_ticks, line="#bdbdbd", lw=1, tick_out=3, fmt=NumeralTickFormatter(format="0.0"), standoff=2)
    p1.add_layout(Grid(dimension=0, ticker=FixedTicker(ticks=[1000, 2000, 3000, 4000, 5000, 6000]), grid_line_color="#f1f1f1"))
    p1.line(rank, es, line_color="#9ded55", line_width=1.6)
    p2 = panel(l, t_rug, r, t_bar, (edges[0], edges[-1]), (0, 1))
    p2.segment(hits, [0] * len(hits), hits, [1] * len(hits), line_color="#111111", line_alpha=.85, line_width=1)
    p3 = panel(l, t_bar, r, t_met, (edges[0], edges[-1]), (0, 1))
    p3.quad(left=edges[:-1], right=edges[1:], top=1, bottom=0, fill_color=strip, line_color=None)
    p4 = panel(l, t_met, r, b, (0, rmax), met_r)
    p4a = panel(l, t_met + dy_met, r, b + dy_met, (0, rmax), met_r) if dy_met else p4
    axis(p4a, "left", met_ticks, line="#bdbdbd", lw=1, tick_out=3, fmt=NumeralTickFormatter(format="0.0"), standoff=2)
    axis(p4, "below", [2000, 4000, 6000] if rmax != 6206 else [1000, 2000, 3000, 4000, 5000, 6000], line="#bdbdbd", lw=1, tick_out=2, standoff=4, fmt=NumeralTickFormatter(format="0"))
    p4.add_layout(Grid(dimension=0, ticker=FixedTicker(ticks=[1000, 2000, 3000, 4000, 5000, 6000]), grid_line_color="#f1f1f1"))
    p4.varea(mr, [0] * len(mr), mv, fill_color="#bdbdbd")

gsea(103, 580, 1057, 1235, 1278, 1297, 1403, 6636, (-.592, .106), [0, -.2, -.4], e_rank, e_es, e_hits, e_edges, e_strip, (-1.06, 1.02), [1, .5, 0, -.5, -1], e_m_rank, e_m)
gsea(908, 1388, 1046, 1228, 1272, 1290, 1400, 6206, (-.127, .514), [.5, .4, .3, .2, .1, 0, -.1], f_rank, f_es, f_hits, f_edges, f_strip, (-1.01, 1.178), [1, .5, 0, -.5], f_m_rank, f_m)
gsea(102, 586, 1574, 1757, 1801, 1820, 1929, 6528, (-.068, .764), [.6, .4, .2, 0], g_rank, g_es, g_hits, g_edges, g_strip, (-.843, 1.107), [1, .5, 0, -.5], g_m_rank, g_m, dy_es=7, dy_met=6)
gsea(922, 1403, 1560, 1742, 1786, 1804, 1914, 6558, (-.55, .053), [0, -.2, -.4], h_rank, h_es, h_hits, h_edges, h_strip, (-.846, 1.088), [1, .5, 0, -.5], h_m_rank, h_m)

# ---------- heat maps
def ramp(a, b, n):
    out = []
    for i in range(n):
        f = i / (n - 1)
        out.append("#%02x%02x%02x" % tuple(int(round(a[k] + (b[k] - a[k]) * f)) for k in range(3)))
    return out

palette = ramp((0, 0, 128), (255, 255, 255), 128) + ramp((255, 255, 255), (178, 34, 34), 128)[1:]
mapper = LinearColorMapper(palette=palette, low=-1, high=1)

def heat(l, t, r, b, rows):
    n = len(rows)
    p = panel(l, t, r, b, (-.5, 3.5), (n - .5, -.5))
    xs, ys, vs = [], [], []
    for i, row in enumerate(rows):
        for j, v in enumerate(row):
            xs.append(j); ys.append(i); vs.append(v)
    src = ColumnDataSource(dict(x=xs, y=ys, v=vs))
    p.rect("x", "y", width=1, height=1, source=src, fill_color=transform("v", mapper), line_color=transform("v", mapper), line_width=.5)

heat(591, 968, 698, 1422, e_heat)
heat(1409, 946, 1519, 1398, f_heat)
heat(595, 1556, 701, 2039, g_heat)
heat(1413, 1442, 1517, 2076, h_heat)

def cbar(l, t, r, b):
    p = panel(l, t, r, b, (0, 1), (-1, 1))
    n = len(palette)
    bottoms = [-1 + 2 * i / n for i in range(n)]
    tops_ = [-1 + 2 * (i + 1) / n + .01 for i in range(n)]
    p.quad(left=0, right=1, bottom=bottoms, top=tops_, fill_color=palette, line_color=None)

cbar(1615, 946, 1632, 1047)
cbar(1612, 1446, 1630, 1546)

# ---------- overlay: free text, legend, arrows
ov = panel(0, 0, 1713, 2077, (0, 1713), (2077, 0))
T = dict(x=[], y=[], text=[], size=[], color=[], align=[], angle=[], style=[])
FS = 25.6

def t(x, y, s, size=FS, color="black", align="center", angle=0, style="normal"):
    T["x"].append(x); T["y"].append(y); T["text"].append(s); T["size"].append("%gpx" % size)
    T["color"].append(color); T["align"].append(align); T["angle"].append(angle); T["style"].append(style)

R = 1.5708
for s, x, y in [("A", 13, 20), ("B", 527, 17), ("C", 10, 553), ("D", 358, 556), ("E", 13, 971), ("F", 828, 927), ("G", 11, 1509), ("H", 838, 1520)]:
    t(x, y, s, 25, style="bold")

umap_labels = [("C8", 570, 215), ("C3", 815, 267), ("C9", 862, 503), ("C2", 1020, 470), ("C18", 1217, 430), ("C5", 1318, 530), ("C1", 1478, 643), ("C15", 840, 658), ("C7", 1097, 678),
               ("C20", 485, 718), ("C10", 1355, 740), ("C17", 707, 835), ("C14", 1070, 825), ("C4", 892, 922), ("C19", 262, 1003), ("C16", 1360, 1005), ("C12", 975, 1048), ("C13", 730, 1085), ("C11", 815, 1322), ("C6", 1168, 1388)]
for s, x, y in umap_labels:
    t(x / 2.958, y / 2.958, s, 28.5)
t(37, 420, "UMAP_2", 30, angle=R)
t(128, 510, "UMAP_1", 30)

t(779, 26, "Arm", 24); t(1116, 26, "Cl13", 24)
t(548, 270, "Frequency (%)", 25, angle=R)
t(1262, 529, "(Dpi)", 24, RED, "left")
for i in range(20):
    y = 11 + i * 25.6
    t(1297, y, legend_black[i], 25.7, align="left")
    if i in legend_red:
        t(1359 if i == 9 else 1345, y, legend_red[i], 25.7, RED, "left")

t(43, 598, "Gzma high effector-like", align="left")
t(43, 626, "CD8⁺ T", align="left")
t(271, 637, "Arm", align="left")
t(271, 675, "Cl13", align="left")
t(16, 770, "Frequency(%)", 25, angle=R)
t(276, 876, "30")
t(297, 876, "(Dpi)", 24, align="left")

for s, x, y in [("3.04", 530, 633), ("7.41", 792, 633), ("11.6", 1041, 634), ("9.31", 1307, 637), ("D4", 630, 559), ("Arm", 507, 592), ("Cl13", 772, 592), ("D8", 1147, 562), ("Arm", 1021, 595), ("Cl13", 1279, 595)]:
    t(x, y, s, 24)
t(357, 760, "GzmA- eFluor450", 25, angle=R)
t(377, 878, "CD8-BV605", 25, align="left")
t(1433, 740, "%GzmA⁺ CD8⁺ T cells", 25, angle=R)
t(1467, 742, "in TCR-β⁺ cells", 25, angle=R)
t(1556, 704, "*", 22)

# GSEA texts
for (ttl, tx, ty, nes, nx, fdr, fx, ny) in [("GO BP_Response to virus", 356, 1041, "NES= -2.36", 270, "FDR= 0.000", 424, 1069),
                                            ("GO BP_Response" + NB + NB + "to virus", 1173, 1016, "NES= 2.32", 1109, "FDR= 0.028", 1255, 1044),
                                            ("GOBP_Response to type I" + NB + NB + "interferon", 334, 1557, "NES= 2.33", 259, "FDR= 0.003", 405, 1585),
                                            ("GOBP_ATP metabolic process", 1173, 1551, "NES= -2.37", 1071, "FDR= 0.000", 1225, 1579)]:
    t(tx, ty, ttl)
    t(nx, ny, nes, align="left")
    t(fx, ny, fdr, align="left")
for s, x, y, c in [("D4 Cl13", 162, 1334, RED), ("D4 Arm", 516, 1374, BLUE), ("D8 Cl13", 972, 1329, RED), ("D8 Arm", 1335, 1370, BLUE),
                   ("D8 Cl13", 165, 1849, RED), ("D8 Arm", 527, 1914, BLUE), ("D8 Cl13", 986, 1837, RED), ("D8 Arm", 1345, 1893, BLUE)]:
    t(x, y, s, FS, c)
for s, x, y in [("Running Enrichment", 12, 1150), ("Score", 40, 1151), ("Ranked List", 12, 1350), ("Metricw", 40, 1347),
                ("Running Enrichment", 828, 1142), ("Score", 856, 1143), ("Ranked List", 823, 1341), ("Metric", 851, 1338),
                ("Running Enrichment", 12, 1679), ("Score", 40, 1680), ("Ranked List", 15, 1880), ("Metric", 45, 1877),
                ("Running Enrichment", 836, 1654), ("Score", 865, 1655), ("Ranked List", 836, 1857), ("Metricw", 867, 1854)]:
    t(x, y, s, angle=R)

# heat-map labels
for i, g in enumerate(ef_genes):
    t(701, 986 + i * 35.2, g, align="left")
    t(1524, 961 + i * 35.3, g, align="left")
for i, g in enumerate(g_genes):
    t(702, 1573 + i * 34.5, g, align="left")
for i, g in enumerate(h_genes):
    t(1522, 1453 + i * 22.6, g, align="left")
for s, x, y in [("D4", 632, 927), ("Arm Cl13", 642, 957), ("D8", 1461, 910), ("Arm Cl13", 1464, 934), ("Arm Cl13", 649, 1543), ("Arm Cl13", 1467, 1431)]:
    t(x, y, s)
for s, y in [("1", 953), ("0.5", 982), ("0", 1000), ("-0.5", 1020), ("-1", 1039)]:
    t(1637, y, s, align="left")
for s, y in [("1", 1461), ("0.5", 1479), ("0", 1498), ("-0.5", 1517), ("-1", 1537)]:
    t(1632, y, s, align="left")

ov.text("x", "y", "text", source=ColumnDataSource(T), text_font=value(FONT), text_font_size="size", text_color="color", text_align="align",
        angle="angle", text_font_style="style", text_baseline="middle")

# legend swatches
ov.scatter([1283] * 20, [10 + i * 25.6 for i in range(20)], size=21, color=cluster_colors, line_color=None)
# panel C legend keys
ov.line([241, 270], [637, 637], line_color="#0b0bea", line_width=2.5)
ov.scatter([255], [637], marker="circle", size=12, color="#0b0bea")
ov.line([241, 270], [675, 675], line_color="#d80000", line_width=2.5)
ov.scatter([255], [675], marker="square", size=12, color="#d80000")
# header rules
for x0, x1, y, w in [(490, 797, 573, 3), (1029, 1317, 575, 3), (597, 689, 940, 3), (1420, 1511, 921, 3)]:
    ov.line([x0, x1], [y, y], line_color="black", line_width=w)
# arrows
def arrow(x0, y0, x1, y1, w, hl, hw):
    ov.line([x0, x1], [y0, y1], line_color="black", line_width=w)
    if x0 == x1:
        s = 1 if y1 > y0 else -1
        ov.patch([x1 - hw, x1, x1 + hw], [y1 - s * 0, y1 + s * hl, y1 - s * 0], color="black")
    else:
        ov.patch([x1, x1 + hl, x1], [y1 - hw, y1, y1 + hw], color="black")

arrow(34, 346, 34, 108, 6, 18, 10)
arrow(206, 510, 450, 510, 6, 18, 10)
arrow(357, 655, 357, 612, 6, 18, 9)
arrow(542, 873, 1398, 873, 6, 18, 10)

root = Column(children=figs, width=1713, height=2077, spacing=0,
              styles={"position": "absolute", "left": "0px", "top": "0px", "overflow": "hidden"})
open("out.html", "w").write(file_html(root, INLINE))
